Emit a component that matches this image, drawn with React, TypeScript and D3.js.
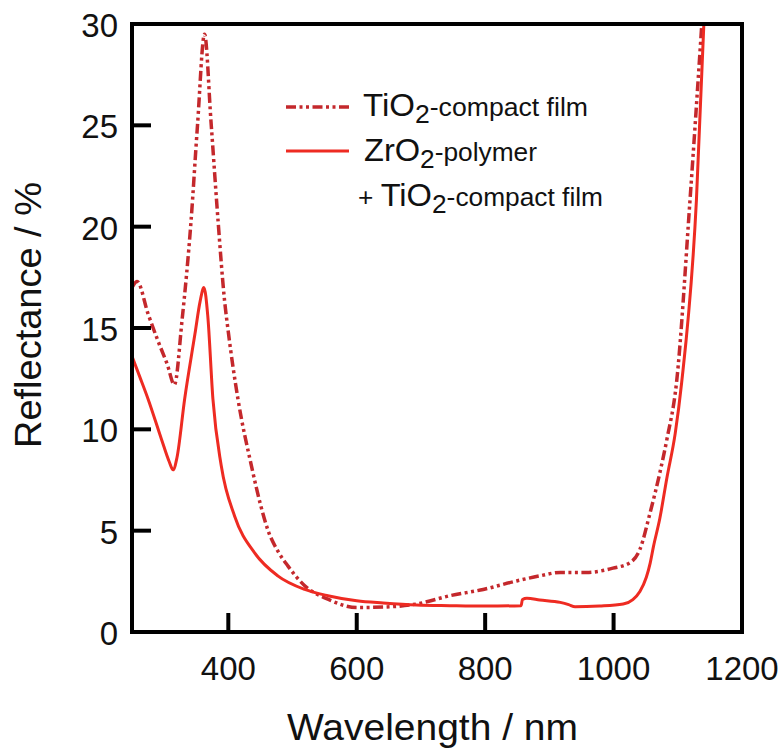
import React from "react";
import * as d3 from "d3";

const tiWl = [250, 258, 275, 290, 305, 316, 328, 342, 352, 363, 373, 384, 394, 400, 415, 436, 450, 462, 477, 493, 519, 555, 600, 641, 693, 745, 797, 849, 885, 917, 958, 999, 1026, 1041, 1057, 1072, 1083, 1098, 1119, 1137];
const tiR = [17.0, 17.3, 15.7, 14.4, 13.2, 12.2, 15.4, 20.3, 25.0, 29.5, 25.2, 20.3, 16.4, 14.8, 11.5, 8.2, 6.3, 5.0, 4.0, 3.25, 2.28, 1.62, 1.21, 1.23, 1.38, 1.79, 2.1, 2.52, 2.77, 2.94, 2.94, 3.15, 3.43, 4.08, 5.9, 7.85, 9.5, 12.3, 21.3, 29.8];

const zrWl = [250, 262, 275, 296, 308, 314, 320, 332, 348, 356, 362, 368, 376, 389, 410, 441, 477, 519, 555, 600, 641, 693, 745, 800, 856, 858, 865, 885, 917, 930, 940, 978, 1015, 1030, 1041, 1051, 1057, 1062, 1072, 1083, 1096, 1106, 1129, 1141];
const zrR = [13.6, 12.6, 11.5, 9.5, 8.4, 8.0, 8.6, 11.5, 14.7, 16.3, 17.0, 15.6, 11.5, 8.2, 5.7, 3.9, 2.77, 2.1, 1.79, 1.54, 1.43, 1.33, 1.3, 1.28, 1.3, 1.6, 1.66, 1.58, 1.46, 1.35, 1.24, 1.28, 1.38, 1.6, 2.0, 2.7, 3.4, 4.2, 5.6, 7.6, 9.8, 12.3, 21.3, 30.3];

const xTicks = [400, 600, 800, 1000, 1200];
const yTicks = [0, 5, 10, 15, 20, 25, 30];

const FONT = "'Liberation Sans', Arial, Helvetica, sans-serif";
const TI_COLOR = "#c4282c";
const ZR_COLOR = "#ee2b22";
const TI_DASH = "10,3.5,3,3.5,3,3.5";

export default function App() {
  const left = 132, right = 742, top = 24, bottom = 632;
  const x = d3.scaleLinear().domain([250, 1200]).range([left, right]);
  const y = d3.scaleLinear().domain([0, 30]).range([bottom, top]);
  const line = d3
    .line<[number, number]>()
    .x((d) => x(d[0]))
    .y((d) => y(d[1]))
    .curve(d3.curveMonotoneX);
  const tiPath = line(tiWl.map((w, i) => [w, tiR[i]] as [number, number])) || "";
  const zrPath = line(zrWl.map((w, i) => [w, zrR[i]] as [number, number])) || "";

  return (
    <svg
      width={783}
      height={750}
      style={{ position: "absolute", left: 0, top: 0, background: "#fff" }}
      fontFamily={FONT}
    >
      <defs>
        <clipPath id="plotclip">
          <rect x={left} y={top} width={right - left} height={bottom - top} />
        </clipPath>
      </defs>
      <g clipPath="url(#plotclip)">
        <path d={tiPath} fill="none" stroke={TI_COLOR} strokeWidth={3.5} strokeDasharray={TI_DASH} />
        <path d={zrPath} fill="none" stroke={ZR_COLOR} strokeWidth={3} />
      </g>
      <rect x={left} y={top} width={right - left} height={bottom - top} fill="none" stroke="#000" strokeWidth={4} />
      {yTicks.map((t) => (
        <g key={"y" + t}>
          {t > 0 && t < 30 && (
            <line x1={left} x2={left + 19} y1={y(t)} y2={y(t)} stroke="#000" strokeWidth={4} />
          )}
          <text x={118} y={y(t) + 13} fontSize={33} textAnchor="end" fill="#111">
            {t}
          </text>
        </g>
      ))}
      {xTicks.map((t) => (
        <g key={"x" + t}>
          {t < 1200 && (
            <line x1={x(t)} x2={x(t)} y1={bottom} y2={bottom - 19} stroke="#000" strokeWidth={4} />
          )}
          <text x={x(t)} y={680} fontSize={33} textAnchor="middle" fill="#111">
            {t}
          </text>
        </g>
      ))}
      <text x={287} y={740} fontSize={36} textLength={291} lengthAdjust="spacingAndGlyphs" fill="#111">
        Wavelength / nm
      </text>
      <text
        transform={`translate(41,448) rotate(-90)`}
        fontSize={36}
        textLength={266}
        lengthAdjust="spacingAndGlyphs"
        fill="#111"
      >
        Reflectance / %
      </text>
      <line x1={286} x2={349} y1={107} y2={107} stroke={TI_COLOR} strokeWidth={3.5} strokeDasharray={TI_DASH} />
      <text x={363} y={116} fill="#111" textLength={225} lengthAdjust="spacingAndGlyphs">
        <tspan fontSize={31}>TiO</tspan>
        <tspan fontSize={25} dy={7}>2</tspan>
        <tspan fontSize={25} dy={-7}>-compact film</tspan>
      </text>
      <line x1={286} x2={349} y1={151} y2={151} stroke={ZR_COLOR} strokeWidth={3} />
      <text x={364} y={161} fill="#111" textLength={173} lengthAdjust="spacingAndGlyphs">
        <tspan fontSize={31}>ZrO</tspan>
        <tspan fontSize={25} dy={7}>2</tspan>
        <tspan fontSize={25} dy={-7}>-polymer</tspan>
      </text>
      <text x={358} y={206} fill="#111" textLength={245} lengthAdjust="spacingAndGlyphs">
        <tspan fontSize={25}>+ </tspan>
        <tspan fontSize={31}>TiO</tspan>
        <tspan fontSize={25} dy={7}>2</tspan>
        <tspan fontSize={25} dy={-7}>-compact film</tspan>
      </text>
    </svg>
  );
}
